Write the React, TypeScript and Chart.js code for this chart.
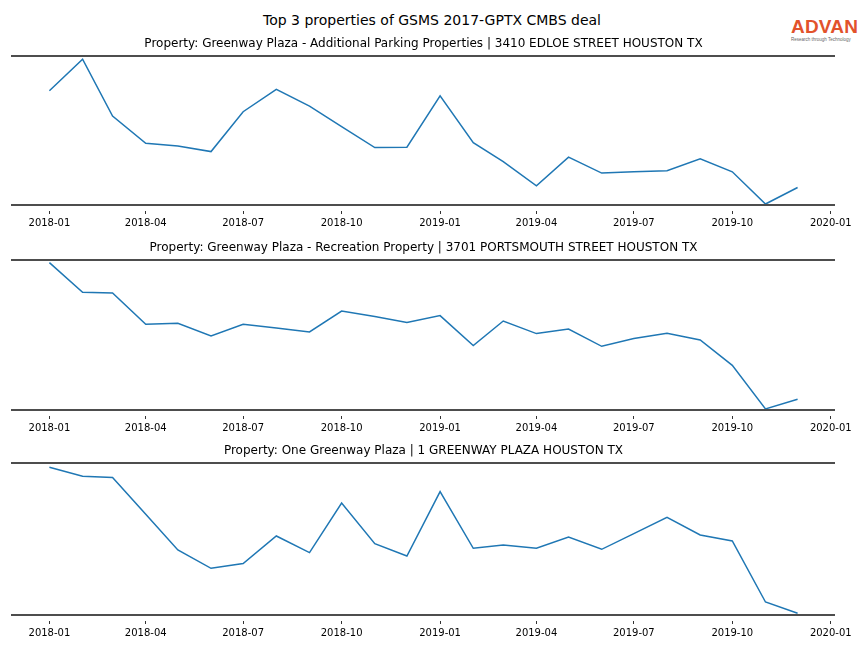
import React, { useEffect, useRef } from "react";
import { Chart, registerables } from "chart.js";

Chart.register(...registerables);

const FIG_TITLE = "Top 3 properties of GSMS 2017-GPTX CMBS deal";

const MONTHS = [
  "2018-01", "2018-02", "2018-03", "2018-04", "2018-05", "2018-06",
  "2018-07", "2018-08", "2018-09", "2018-10", "2018-11", "2018-12",
  "2019-01", "2019-02", "2019-03", "2019-04", "2019-05", "2019-06",
  "2019-07", "2019-08", "2019-09", "2019-10", "2019-11", "2019-12",
];

const TICK_LABELS = [
  "2018-01", "2018-04", "2018-07", "2018-10",
  "2019-01", "2019-04", "2019-07", "2019-10", "2020-01",
];

const PROPERTY_TITLES = [
  "Property: Greenway Plaza - Additional Parking Properties | 3410 EDLOE STREET HOUSTON TX",
  "Property: Greenway Plaza - Recreation Property | 3701 PORTSMOUTH STREET HOUSTON TX",
  "Property: One Greenway Plaza | 1 GREENWAY PLAZA HOUSTON TX",
];

const SERIES_1 = [
  114.6, 146.3, 89.3, 62.0, 59.3, 53.6, 93.6, 116.0, 99.3, 78.6, 57.6, 58.0,
  109.6, 62.6, 43.6, 19.3, 48.0, 32.0, 33.3, 34.3, 46.3, 33.3, 1.0, 17.6,
];

const SERIES_2 = [
  147.4, 117.7, 117.0, 85.7, 86.7, 74.0, 85.7, 82.0, 78.0, 99.0, 93.4, 87.4,
  94.4, 64.4, 89.0, 76.4, 81.0, 63.7, 71.4, 76.7, 70.0, 44.7, 1.0, 10.7,
];

const SERIES_3 = [
  147.7, 138.7, 137.4, 100.7, 65.0, 46.7, 51.4, 79.0, 62.4, 112.0, 71.4, 59.0,
  123.4, 66.7, 70.0, 66.7, 78.0, 65.7, 81.4, 97.7, 80.0, 74.0, 13.0, 1.7,
];

const Y_MAX = [149.5, 150, 152];
const ALL_SERIES = [SERIES_1, SERIES_2, SERIES_3];

// canvas placement per subplot: [top, height]
const PANELS: [number, number][] = [
  [35, 197],
  [239, 198],
  [442, 200],
];

const FONT = "'DejaVu Sans', sans-serif";

function dayOf(label: string): number {
  const [y, m] = label.split("-").map(Number);
  return (Date.UTC(y, m - 1, 1) - Date.UTC(2018, 0, 1)) / 86400000;
}

const spinePlugin = {
  id: "spines",
  afterDatasetsDraw(chart: any) {
    const { ctx, chartArea } = chart;
    const { left, right, top, bottom } = chartArea;
    ctx.save();
    ctx.strokeStyle = "#4d4d4d";
    ctx.lineWidth = 2;
    ctx.beginPath();
    ctx.moveTo(left - 1, top);
    ctx.lineTo(right, top);
    ctx.moveTo(left - 1, bottom);
    ctx.lineTo(right, bottom);
    ctx.stroke();
    ctx.restore();
  },
};

function Panel({ index }: { index: number }) {
  const ref = useRef<HTMLCanvasElement>(null);
  useEffect(() => {
    if (!ref.current) return;
    const xs = MONTHS.map(dayOf);
    const span = xs[xs.length - 1] - xs[0];
    const xMin = xs[0] - span * 0.05;
    const xMax = xs[xs.length - 1] + span * 0.05;
    const series = ALL_SERIES[index];
    const chart = new Chart(ref.current, {
      type: "line",
      data: {
        datasets: [
          {
            data: xs.map((x, i) => ({ x, y: series[i] })),
            borderColor: "#1f77b4",
            backgroundColor: "#1f77b4",
            borderWidth: 1.5,
            pointRadius: 0,
            tension: 0,
            fill: false,
          },
        ],
      },
      options: {
        animation: false,
        responsive: false,
        devicePixelRatio: 1,
        layout: { padding: { left: 12, right: 29, top: 0, bottom: 0 } },
        plugins: {
          legend: { display: false },
          tooltip: { enabled: false },
          title: {
            display: true,
            text: PROPERTY_TITLES[index],
            color: "#000",
            font: { family: FONT, size: 12, weight: "normal" },
            padding: { top: 2, bottom: 4.6 },
          },
        },
        scales: {
          x: {
            type: "linear",
            min: xMin,
            max: xMax,
            afterBuildTicks: (scale: any) => {
              scale.ticks = TICK_LABELS.map((l) => ({ value: dayOf(l) }));
            },
            ticks: {
              callback: (_v: any, i: number) => TICK_LABELS[i],
              color: "#000",
              font: { family: FONT, size: 10 },
              padding: 3,
              maxRotation: 0,
              autoSkip: false,
            },
            grid: {
              display: true,
              drawOnChartArea: false,
              drawTicks: true,
              tickLength: 9,
              tickColor: "#333",
              tickWidth: 1,
              tickBorderDash: [0, 6, 3, 30],
            } as any,
            border: { display: false },
          },
          y: { display: false, min: 0, max: Y_MAX[index] },
        },
      },
      plugins: [spinePlugin],
    });
    return () => chart.destroy();
  }, [index]);
  const [top, height] = PANELS[index];
  return (
    <canvas
      ref={ref}
      width={864}
      height={height}
      style={{ position: "absolute", left: 0, top, width: 864, height }}
    />
  );
}

export default function App() {
  return (
    <div
      style={{
        position: "fixed",
        left: 0,
        top: 0,
        width: 864,
        height: 648,
        background: "#fff",
        overflow: "hidden",
      }}
    >
      <div
        style={{
          position: "absolute",
          left: 0,
          top: 12,
          width: 864,
          textAlign: "center",
          fontFamily: FONT,
          fontSize: 14,
          lineHeight: "16px",
          color: "#000",
        }}
      >
        {FIG_TITLE}
      </div>
      <div
        style={{
          position: "absolute",
          left: 791,
          top: 16,
          width: 70,
          fontFamily: "'Liberation Sans', sans-serif",
          color: "#e2522b",
        }}
      >
        <div style={{ fontSize: 19, lineHeight: "21px", fontWeight: "bold", letterSpacing: 0.2 }}>ADVAN</div>
        <div style={{ fontSize: 4.5, lineHeight: "5px", color: "#666", marginTop: 0 }}>
          Research through Technology
        </div>
      </div>
      {[0, 1, 2].map((i) => (
        <Panel key={i} index={i} />
      ))}
    </div>
  );
}
